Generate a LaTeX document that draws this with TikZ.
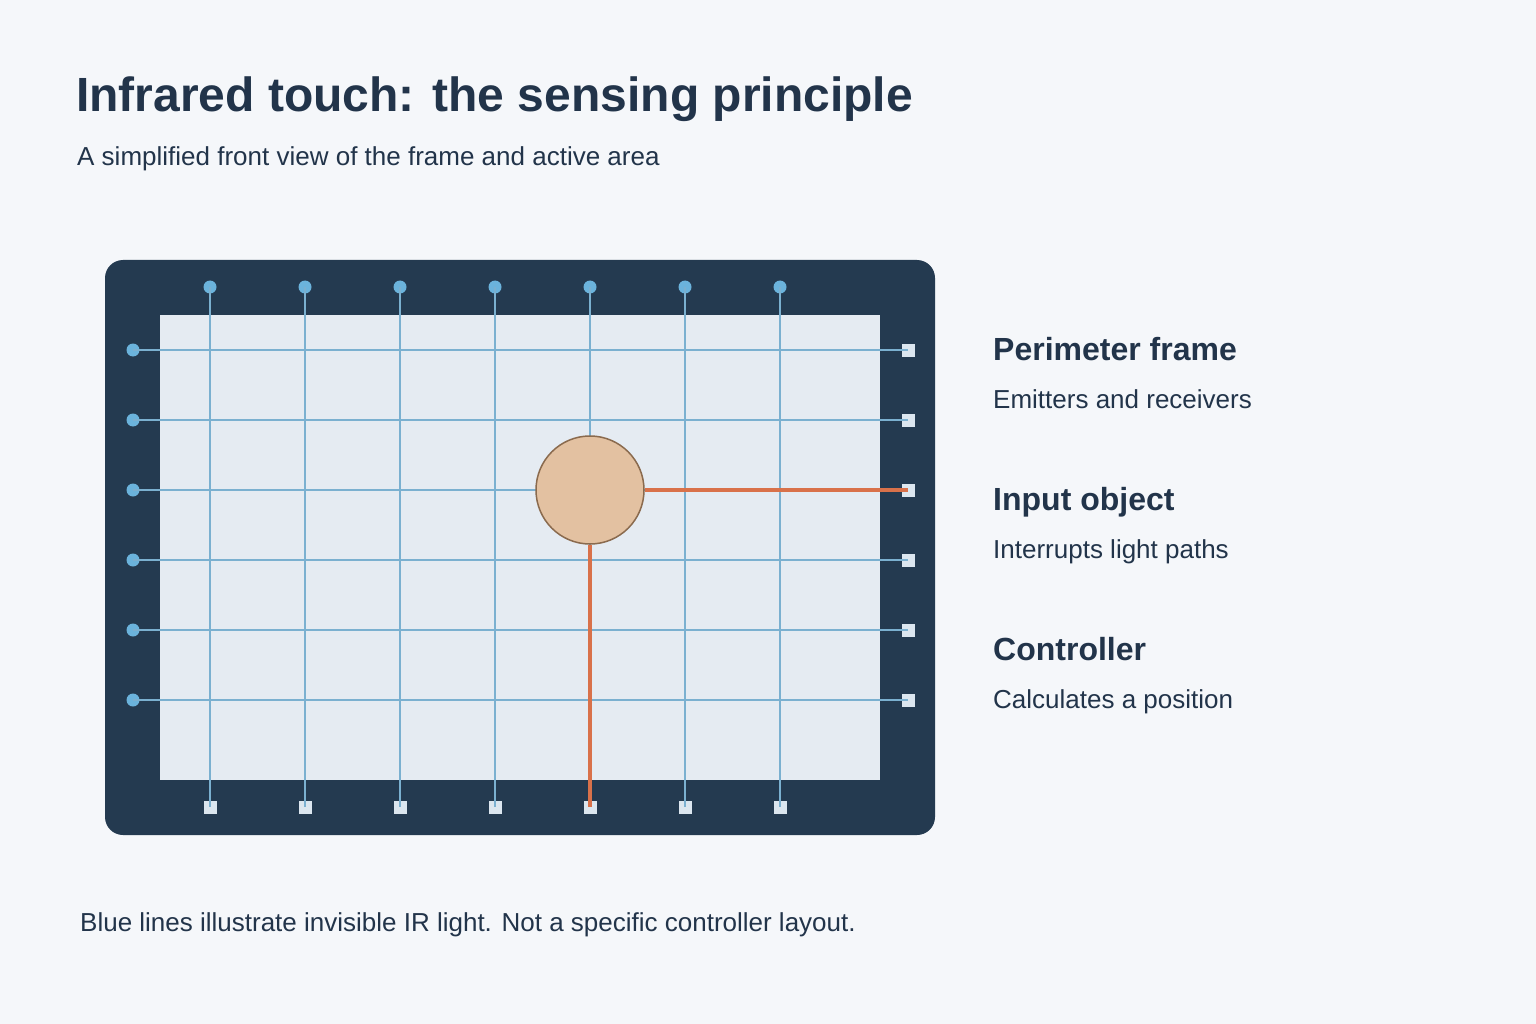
\documentclass[tikz,border=0pt]{standalone}
\usepackage{fontspec}
\setmainfont{Liberation Sans}
\begin{document}
\begin{tikzpicture}[x=1pt,y=-1pt,
  txt/.style={text=ink,anchor=base west,inner sep=0},
  ray/.style={draw=ray,line width=2.2pt},
  em/.style={circle,fill=emit,inner sep=0,minimum size=13pt},
  rc/.style={rectangle,fill=recv,inner sep=0,minimum size=13pt},
  hit/.style={draw=hitc,line width=4pt}]
\definecolor{bg}{HTML}{F5F7FA}
\definecolor{ink}{HTML}{22344A}
\definecolor{frame}{HTML}{243A50}
\definecolor{area}{HTML}{E5EBF2}
\definecolor{ray}{HTML}{7BB0D0}
\definecolor{emit}{HTML}{6BB3DC}
\definecolor{recv}{HTML}{DCE6EF}
\definecolor{obj}{HTML}{E3C1A1}
\definecolor{objb}{HTML}{8A6A4E}
\definecolor{hitc}{HTML}{D9714A}
\fill[bg] (0,0) rectangle (1536,1024);
\useasboundingbox (0,0) rectangle (1536,1024);
\node[txt,font=\fontsize{48}{56}\selectfont\bfseries] (title) at (76,112) {Infrared touch: the sensing principle};
\node[txt,font=\fontsize{26}{30}\selectfont] (sub) at (77,166) {A simplified front view of the frame and active area};
\fill[frame,rounded corners=18pt] (105,260) rectangle (935,835);
\fill[area] (160,315) rectangle (880,780);
\foreach \i/\x in {1/210,2/305,3/400,4/495,5/590,6/685,7/780}{
  \node[em] (t\i) at (\x,287) {};
  \node[rc] (b\i) at (\x,807) {};
  \draw[ray] (t\i.center) -- (b\i.center);
}
\foreach \i/\y in {1/350,2/420,3/490,4/560,5/630,6/700}{
  \node[em] (l\i) at (133,\y) {};
  \node[rc] (r\i) at (908,\y) {};
  \draw[ray] (l\i.center) -- (r\i.center);
}
\node[circle,minimum size=108pt,inner sep=0,fill=obj,draw=objb,line width=1.5pt] (obj) at (590,490) {};
\draw[hit] (obj.east) -- (r3.center);
\draw[hit] (obj.south) -- (b5.center);
\node[txt,font=\fontsize{32}{36}\selectfont\bfseries] (h1) at (993,360) {Perimeter frame};
\node[txt,font=\fontsize{26}{30}\selectfont] (d1) at (993,408) {Emitters and receivers};
\node[txt,font=\fontsize{32}{36}\selectfont\bfseries] (h2) at (993,510) {Input object};
\node[txt,font=\fontsize{26}{30}\selectfont] (d2) at (993,558) {Interrupts light paths};
\node[txt,font=\fontsize{32}{36}\selectfont\bfseries] (h3) at (993,660) {Controller};
\node[txt,font=\fontsize{26}{30}\selectfont] (d3) at (993,708) {Calculates a position};
\node[txt,font=\fontsize{26}{30}\selectfont] (foot) at (80,931) {Blue lines illustrate invisible IR light. Not a specific controller layout.};
\end{tikzpicture}
\end{document}
